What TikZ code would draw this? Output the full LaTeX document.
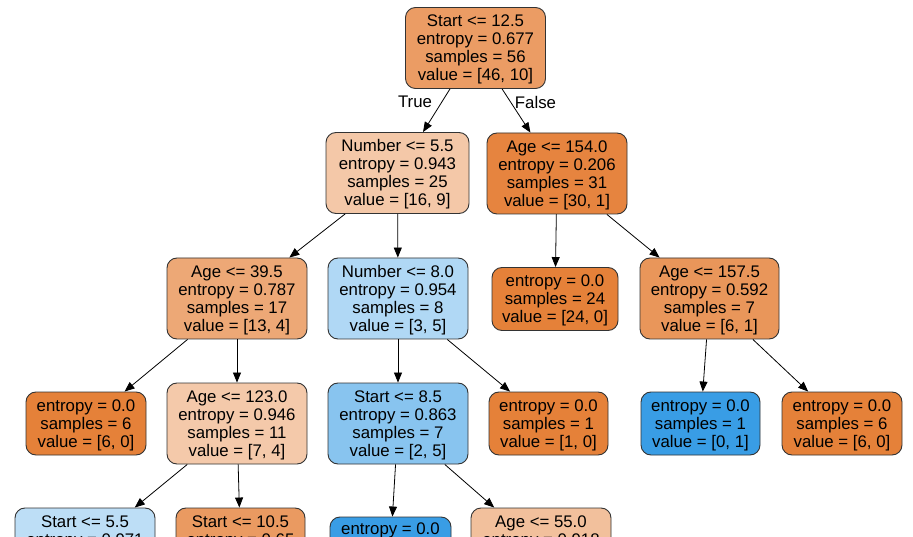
\documentclass[tikz,border=0pt]{standalone}
\usepackage{fontspec}
\setmainfont{Liberation Sans}
\usetikzlibrary{arrows.meta}
\definecolor{cRoot}{HTML}{EB9C64}
\definecolor{cA}{HTML}{F4C8A8}
\definecolor{cB}{HTML}{E6843F}
\definecolor{cC}{HTML}{EDA876}
\definecolor{cD}{HTML}{B0D8F5}
\definecolor{cO}{HTML}{E58139}
\definecolor{cE}{HTML}{E9965A}
\definecolor{cF}{HTML}{F4C9AA}
\definecolor{cG}{HTML}{88C4EF}
\definecolor{cBl}{HTML}{399DE5}
\definecolor{cH}{HTML}{BDDEF6}
\definecolor{cI}{HTML}{EA9A61}
\definecolor{cJ}{HTML}{F2C09C}
\begin{document}
\begin{tikzpicture}[x=1pt,y=-1pt,
  tn/.style={draw=black!80, line width=0.9pt, rounded corners=10pt, align=center,
    font=\fontsize{16.8}{18}\selectfont, inner xsep=2pt, inner ysep=5.5pt},
  four/.style={tn, text height=68pt, text depth=2pt, minimum width=140pt},
  three/.style={tn, text height=50pt, text depth=2pt, minimum width=120pt},
  cuttwo/.style={tn, text height=32pt, text depth=38pt},
  cutone/.style={tn, text height=11.5pt, text depth=40.5pt},
  edge/.style={-{Triangle[length=10pt,width=8pt]}, line width=0.8pt},
  lbl/.style={font=\fontsize{16.8}{18}\selectfont}]
\fill[white] (0,0) rectangle (913,537);
\useasboundingbox (0,0) rectangle (913,537);
\clip (0,0) rectangle (913,537);

\node[four, fill=cRoot] (n0) at (475.5,48) {Start <= 12.5\\entropy = 0.677\\samples = 56\\value = [46, 10]};
\node[four, fill=cA, minimum width=143pt] (n1) at (397.5,173) {Number <= 5.5\\entropy = 0.943\\samples = 25\\value = [16, 9]};
\node[four, fill=cB] (n2) at (557,173.5) {Age <= 154.0\\entropy = 0.206\\samples = 31\\value = [30, 1]};
\node[four, fill=cC] (n3) at (237,298.5) {Age <= 39.5\\entropy = 0.787\\samples = 17\\value = [13, 4]};
\node[four, fill=cD] (n4) at (398,298.5) {Number <= 8.0\\entropy = 0.954\\samples = 8\\value = [3, 5]};
\node[three, fill=cO, minimum width=126pt] (n5) at (555,299) {entropy = 0.0\\samples = 24\\value = [24, 0]};
\node[four, fill=cE, minimum width=139pt] (n6) at (709.5,298.5) {Age <= 157.5\\entropy = 0.592\\samples = 7\\value = [6, 1]};
\node[three, fill=cO] (n7) at (86,423.5) {entropy = 0.0\\samples = 6\\value = [6, 0]};
\node[four, fill=cF] (n8) at (237,423.5) {Age <= 123.0\\entropy = 0.946\\samples = 11\\value = [7, 4]};
\node[four, fill=cG] (n9) at (398,423.5) {Start <= 8.5\\entropy = 0.863\\samples = 7\\value = [2, 5]};
\node[three, fill=cO, minimum width=119pt] (n10) at (548.5,423.5) {entropy = 0.0\\samples = 1\\value = [1, 0]};
\node[three, fill=cBl, minimum width=119pt] (n11) at (700.5,423.5) {entropy = 0.0\\samples = 1\\value = [0, 1]};
\node[three, fill=cO] (n12) at (842,423.5) {entropy = 0.0\\samples = 6\\value = [6, 0]};
\node[cuttwo, minimum width=140pt, fill=cH] (n13) at (85,548.5) {Start <= 5.5\\entropy = 0.971};
\node[cuttwo, minimum width=129pt, fill=cI] (n14) at (240.5,548.5) {Start <= 10.5\\entropy = 0.65};
\node[cutone, minimum width=121pt, fill=cBl] (n15) at (390.5,548.5) {entropy = 0.0};
\node[cuttwo, minimum width=140pt, fill=cJ] (n16) at (541,548.5) {Age <= 55.0\\entropy = 0.918};

\draw[edge] (n0) -- (n1);
\draw[edge] (n0) -- (n2);
\draw[edge] (n1) -- (n3);
\draw[edge] (n1) -- (n4);
\draw[edge] (n2) -- (n5);
\draw[edge] (n2) -- (n6);
\draw[edge] (n3) -- (n7);
\draw[edge] (n3) -- (n8);
\draw[edge] (n4) -- (n9);
\draw[edge] (n4) -- (n10);
\draw[edge] (n6) -- (n11);
\draw[edge] (n6) -- (n12);
\draw[edge] (n8) -- (n13);
\draw[edge] (n8) -- (n14);
\draw[edge] (n9) -- (n15);
\draw[edge] (n9) -- (n16);

\node[lbl] (tl) at (415,102) {True};
\node[lbl] (fl) at (535.5,102) {False};
\end{tikzpicture}
\end{document}
